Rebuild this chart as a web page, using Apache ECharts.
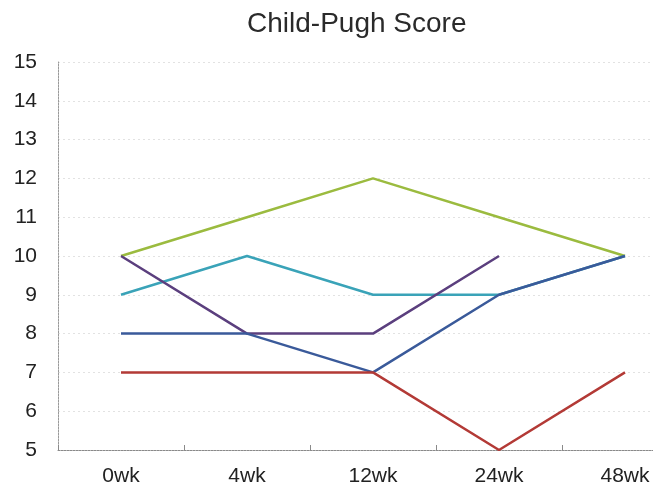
<!DOCTYPE html>
<html>
<head>
<meta charset="utf-8">
<script src="https://cdn.jsdelivr.net/npm/echarts@6/dist/echarts.min.js"></script>
<style>
  html, body { margin: 0; padding: 0; background: #fff; }
  #chart { width: 653px; height: 493px; }
</style>
</head>
<body>
<div id="chart"></div>
<script>
// Child-Pugh score per patient over follow-up
const weeks = ['0wk', '4wk', '12wk', '24wk', '48wk'];
const greenScores  = [10, 11, 12, 11, 10];
const tealScores   = [9, 10, 9, 9, 10];
const purpleScores = [10, 8, 8, 10, null];
const blueScores   = [8, 8, 7, 9, 10];
const redScores    = [7, 7, 7, 5, 7];
const yTicks = { min: 5, max: 15, step: 1 };

const chart = echarts.init(document.getElementById('chart'), null, { renderer: 'canvas' });

function line(name, data, color) {
  return {
    name, type: 'line', data,
    symbol: 'none',
    connectNulls: false,
    lineStyle: { color, width: 2.5 },
    itemStyle: { color },
    animation: false
  };
}

chart.setOption({
  backgroundColor: '#fff',
  title: {
    text: 'Child-Pugh Score',
    left: 242, top: 5,
    textStyle: { fontFamily: 'Liberation Sans, Arial', fontSize: 28, fontWeight: 'normal', color: '#2a2a2a' }
  },
  // plot area runs past the right edge of the canvas, so the last category is partly cut
  grid: { left: 58, top: 62, width: 630, bottom: 43, containLabel: false, outerBoundsMode: 'none' },
  xAxis: {
    type: 'category',
    data: weeks,
    boundaryGap: true,
    axisLine: { lineStyle: { color: '#8a8a8a', width: 1, type: [2, 1] } },
    axisTick: { show: true, alignWithLabel: false, length: 5, inside: true, lineStyle: { color: '#8a8a8a' } },
    axisLabel: { fontFamily: 'Liberation Sans, Arial', fontSize: 21, color: '#222', margin: 16 },
    splitLine: { show: false }
  },
  yAxis: {
    type: 'value',
    min: yTicks.min, max: yTicks.max, interval: yTicks.step,
    axisLine: { show: true, lineStyle: { color: '#9a9a9a', width: 1, type: [2, 1] } },
    axisTick: { show: false },
    axisLabel: { fontFamily: 'Liberation Sans, Arial', fontSize: 21, color: '#222', margin: 21 },
    splitLine: { show: true, lineStyle: { color: '#e2e2e2', width: 1, type: [2, 3] } }
  },
  series: [
    line('A', greenScores, '#9bbb3f'),
    line('B', tealScores, '#3aa3b8'),
    line('C', purpleScores, '#5b3f7e'),
    line('D', blueScores, '#3a5a9a'),
    line('E', redScores, '#b33a36')
  ]
});
</script>
</body>
</html>
